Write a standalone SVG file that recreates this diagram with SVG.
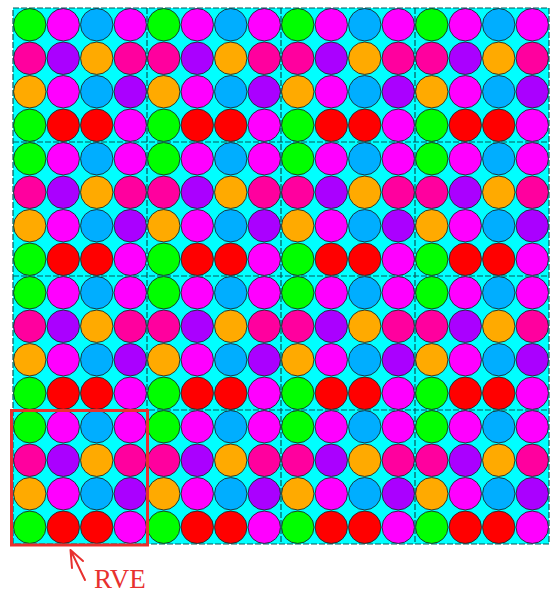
<svg xmlns="http://www.w3.org/2000/svg" xmlns:xlink="http://www.w3.org/1999/xlink" width="550" height="603" viewBox="0 0 550 603">
<style>
.c{stroke:#1a2e2e;stroke-width:0.9}
.g{fill:#00FF00}.m{fill:#FF00FF}.b{fill:#00AEFF}.p{fill:#FF009E}.v{fill:#AA00FF}.o{fill:#FFAA00}.r{fill:#FF0000}
.tl{stroke:#075858;stroke-width:1.2;stroke-dasharray:6,2;fill:none}
.rve{fill:none;stroke:#E8302E;stroke-width:3}
.arr{fill:none;stroke:#E8302E;stroke-width:2;stroke-linecap:round}
.lbl{font-family:"Liberation Serif","Times New Roman",serif;font-size:27px;fill:#E8302E}
</style>
<defs>
<g id="tile">
<circle class="c g" cx="16.75" cy="16.75" r="16.2"/>
<circle class="c m" cx="50.25" cy="16.75" r="16.2"/>
<circle class="c b" cx="83.75" cy="16.75" r="16.2"/>
<circle class="c m" cx="117.25" cy="16.75" r="16.2"/>
<circle class="c p" cx="16.75" cy="50.25" r="16.2"/>
<circle class="c v" cx="50.25" cy="50.25" r="16.2"/>
<circle class="c o" cx="83.75" cy="50.25" r="16.2"/>
<circle class="c p" cx="117.25" cy="50.25" r="16.2"/>
<circle class="c o" cx="16.75" cy="83.75" r="16.2"/>
<circle class="c m" cx="50.25" cy="83.75" r="16.2"/>
<circle class="c b" cx="83.75" cy="83.75" r="16.2"/>
<circle class="c v" cx="117.25" cy="83.75" r="16.2"/>
<circle class="c g" cx="16.75" cy="117.25" r="16.2"/>
<circle class="c r" cx="50.25" cy="117.25" r="16.2"/>
<circle class="c r" cx="83.75" cy="117.25" r="16.2"/>
<circle class="c m" cx="117.25" cy="117.25" r="16.2"/>
</g>
</defs>
<rect width="550" height="603" fill="#FFFFFF"/>
<g id="grid">
<rect x="13" y="8" width="536" height="536" fill="#00FFFF"/>
<g id="tilelines" class="tl">
<path d="M147 8V544M281 8V544M415 8V544M13 142H549M13 276H549M13 410H549"/>
<rect x="13" y="8" width="536" height="536"/>
</g>
<use id="t00" xlink:href="#tile" x="13" y="8"/>
<use id="t01" xlink:href="#tile" x="147" y="8"/>
<use id="t02" xlink:href="#tile" x="281" y="8"/>
<use id="t03" xlink:href="#tile" x="415" y="8"/>
<use id="t10" xlink:href="#tile" x="13" y="142"/>
<use id="t11" xlink:href="#tile" x="147" y="142"/>
<use id="t12" xlink:href="#tile" x="281" y="142"/>
<use id="t13" xlink:href="#tile" x="415" y="142"/>
<use id="t20" xlink:href="#tile" x="13" y="276"/>
<use id="t21" xlink:href="#tile" x="147" y="276"/>
<use id="t22" xlink:href="#tile" x="281" y="276"/>
<use id="t23" xlink:href="#tile" x="415" y="276"/>
<use id="t30" xlink:href="#tile" x="13" y="410"/>
<use id="t31" xlink:href="#tile" x="147" y="410"/>
<use id="t32" xlink:href="#tile" x="281" y="410"/>
<use id="t33" xlink:href="#tile" x="415" y="410"/>
</g>
<g id="rve">
<rect class="rve" x="11.5" y="410.5" width="136" height="134.5"/>
<path class="arr" d="M85 580L70.5 550M70.5 550L72 568M70.5 550L83 561"/>
<text class="lbl" x="94" y="588">RVE</text>
</g>
</svg>
